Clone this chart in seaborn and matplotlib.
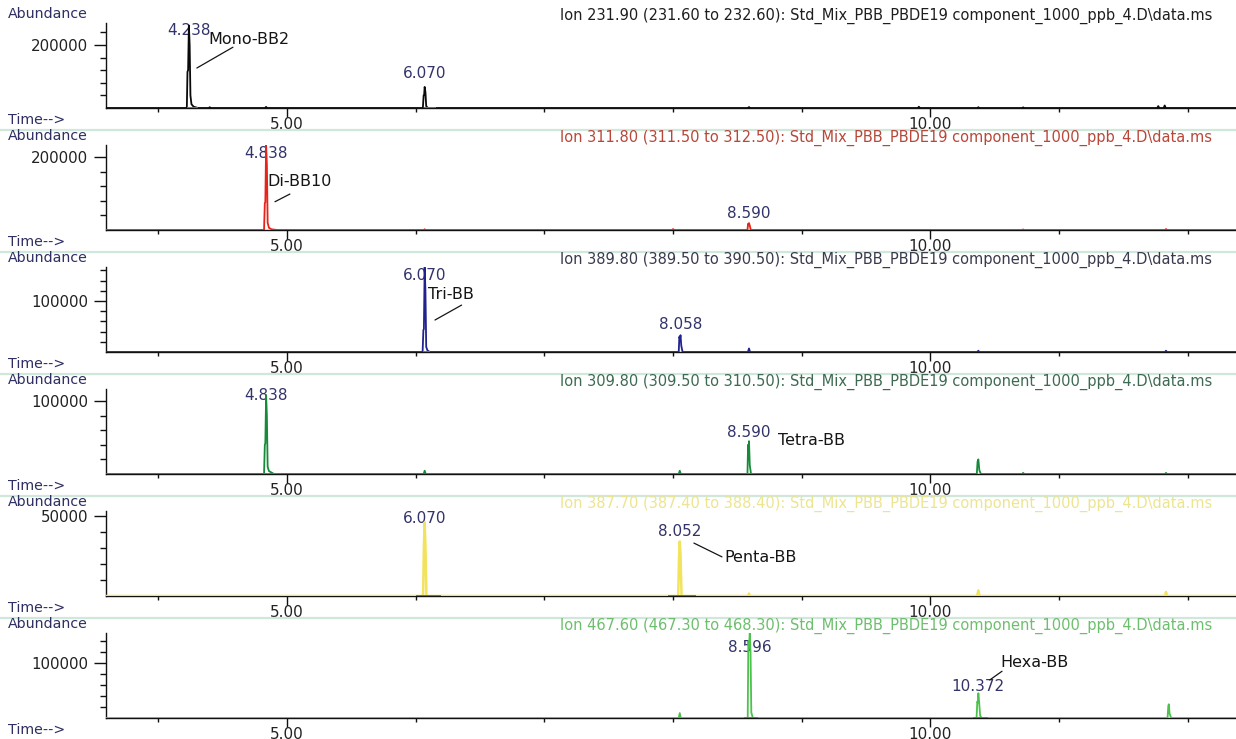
import matplotlib
matplotlib.use("Agg")
import matplotlib.pyplot as plt
import pandas as pd
import seaborn as sns
from matplotlib.ticker import FixedLocator
from matplotlib.lines import Line2D

# ---------------------------------------------------------------- data
# Extracted ion chromatograms: (retention time [min], abundance) pairs
mono_points = [(3.594, 0), (4.222, 0), (4.227, 115000), (4.232, 120000), (4.238, 262000),
               (4.244, 200000), (4.250, 40000), (4.258, 12000), (4.275, 4000), (4.310, 0),
               (4.392, 0), (4.400, 2500), (4.408, 0), (4.830, 0), (4.838, 3500), (4.846, 0),
               (6.056, 0), (6.062, 40000), (6.066, 42000), (6.070, 67000), (6.076, 50000),
               (6.082, 6000), (6.095, 0), (8.582, 0), (8.590, 3000), (8.598, 0),
               (9.902, 0), (9.910, 4000), (9.918, 0), (10.364, 0), (10.372, 2500), (10.380, 0),
               (10.712, 0), (10.720, 2000), (10.728, 0), (11.762, 0), (11.770, 6000), (11.778, 0),
               (11.812, 0), (11.820, 8000), (11.828, 0), (12.374, 0)]

di_points = [(3.594, 0), (4.822, 0), (4.828, 74000), (4.832, 76000), (4.838, 232000),
             (4.844, 180000), (4.850, 20000), (4.860, 6000), (4.880, 2000), (4.920, 0),
             (6.064, 0), (6.070, 2000), (6.076, 0), (7.992, 0), (8.000, 2500), (8.008, 0),
             (8.578, 0), (8.583, 17000), (8.587, 14000), (8.590, 19000), (8.596, 12000), (8.604, 0),
             (10.712, 0), (10.720, 1500), (10.728, 0), (11.822, 0), (11.830, 2500), (11.838, 0),
             (12.374, 0)]

tri_points = [(3.594, 0), (6.054, 0), (6.060, 43000), (6.064, 45000), (6.070, 166000),
              (6.076, 120000), (6.082, 10000), (6.092, 3000), (6.110, 0),
              (8.044, 0), (8.049, 30000), (8.053, 26000), (8.058, 33000), (8.064, 12000), (8.074, 0),
              (8.582, 0), (8.590, 7000), (8.598, 0), (10.364, 0), (10.372, 2500), (10.380, 0),
              (11.822, 0), (11.830, 2500), (11.838, 0), (12.374, 0)]

tetra_points = [(3.594, 0), (4.822, 0), (4.828, 40000), (4.832, 42000), (4.838, 108000),
                (4.844, 80000), (4.850, 10000), (4.860, 4000), (4.900, 0),
                (6.062, 0), (6.070, 4500), (6.078, 0), (8.044, 0), (8.052, 4500), (8.060, 0),
                (8.578, 0), (8.583, 40000), (8.587, 30000), (8.590, 45000), (8.596, 12000), (8.606, 0),
                (10.360, 0), (10.366, 17000), (10.372, 20000), (10.380, 5000), (10.392, 0),
                (10.712, 0), (10.720, 1500), (10.728, 0), (11.822, 0), (11.830, 1500), (11.838, 0),
                (12.374, 0)]

penta_points = [(3.594, 0), (6.058, 0), (6.064, 31000), (6.070, 46000), (6.076, 31000), (6.084, 0),
                (8.040, 0), (8.046, 23000), (8.052, 34000), (8.058, 26000), (8.066, 0),
                (8.582, 0), (8.590, 1500), (8.598, 0), (10.362, 0), (10.372, 3500), (10.382, 0),
                (11.822, 0), (11.830, 2500), (11.838, 0), (12.374, 0)]

hexa_points = [(3.594, 0), (8.044, 0), (8.052, 9000), (8.060, 0),
               (8.580, 0), (8.585, 140000), (8.590, 130000), (8.596, 154000), (8.602, 120000),
               (8.608, 10000), (8.620, 0),
               (10.358, 0), (10.364, 30000), (10.368, 28000), (10.372, 45000), (10.378, 30000),
               (10.386, 4000), (10.398, 0),
               (11.842, 0), (11.848, 22000), (11.852, 25000), (11.858, 8000), (11.870, 0),
               (12.374, 0)]

# labelled retention times per trace
mono_rt = [4.238, 6.070]
di_rt = [4.838, 8.590]
tri_rt = [6.070, 8.058]
tetra_rt = [4.838, 8.590]
penta_rt = [6.070, 8.052]
hexa_rt = [8.596, 10.372]

compound_names = ["Mono-BB2", "Di-BB10", "Tri-BB", "Tetra-BB", "Penta-BB", "Hexa-BB"]

data_file = r"Std_Mix_PBB_PBDE19 component_1000_ppb_4.D\data.ms"
ion_headers = [
    "Ion 231.90 (231.60 to 232.60): " + data_file,
    "Ion 311.80 (311.50 to 312.50): " + data_file,
    "Ion 389.80 (389.50 to 390.50): " + data_file,
    "Ion 309.80 (309.50 to 310.50): " + data_file,
    "Ion 387.70 (387.40 to 388.40): " + data_file,
    "Ion 467.60 (467.30 to 468.30): " + data_file,
]

y_label_ticks = [200000, 200000, 100000, 100000, 50000, 100000]
y_tick_steps = [40000, 40000, 20000, 20000, 10000, 20000]
x_label_ticks = [5.0, 10.0]
x_label_text = ["5.00", "10.00"]
x_minor_ticks = [4, 6, 7, 8, 9, 11, 12]

# integration baselines drawn under the peaks
integration_marks = [
    [(4.225, 4.31), (6.062, 6.16)],
    [],
    [(6.055, 6.115)],
    [(4.815, 4.95), (8.57, 8.64)],
    [(6.00, 6.20), (7.96, 8.18)],
    [(8.55, 8.66), (10.33, 10.45)],
]

# ---------------------------------------------------------------- style
sns.set_theme(style="white")
plt.rcParams["font.family"] = ["DejaVu Sans"]

W, H = 1236, 739
fig = plt.figure(figsize=(W / 100, H / 100), dpi=100)
fig.patch.set_facecolor("white")

X0, X1 = 3.594, 12.374
LEFT_PX, RIGHT_PX = 106, 1236
AX_H_PX = 85

panels = [
    dict(points=mono_points, rt=mono_rt, color="#0a0a0a", head="#1e1e1e", ymax=270000, lw=1.3,
         nums=[245000, 111000], name=(4.386, 219000), lead=[((4.30, 127000), (4.58, 193000))]),
    dict(points=di_points, rt=di_rt, color="#e8231a", head="#b8473a", ymax=233000, lw=1.3,
         nums=[211000, 44000], name=(4.845, 132000), lead=[((4.907, 77500), (5.023, 98600))]),
    dict(points=tri_points, rt=tri_rt, color="#22228f", head="#3a3a4e", ymax=166700, lw=1.3,
         nums=[151000, 53000], name=(6.096, 112000), lead=[((6.15, 62700), (6.357, 92000))]),
    dict(points=tetra_points, rt=tetra_rt, color="#168a38", head="#3d6a52", ymax=116500, lw=1.3,
         nums=[107000, 57500], name=(8.815, 46600), lead=[]),
    dict(points=penta_points, rt=penta_rt, color="#f2e35c", head="#ece590", ymax=53000, lw=1.8,
         nums=[48500, 40000], name=(8.40, 23800), lead=[((8.162, 33000), (8.38, 24400))]),
    dict(points=hexa_points, rt=hexa_rt, color="#4cc24c", head="#6cbf6c", ymax=154500, lw=1.3,
         nums=[129000, 58000], name=(10.54, 100000), lead=[((10.46, 69000), (10.556, 85000))]),
]

NAVY = "#2e2e62"
LABEL_NUM = "#33336b"

for i, p in enumerate(panels):
    baseline_px = 108 + 122 * i
    rect = [LEFT_PX / W, 1 - baseline_px / H, (RIGHT_PX - LEFT_PX) / W, AX_H_PX / H]
    ax = fig.add_axes(rect)
    ax.set_facecolor("none")

    df = pd.DataFrame(p["points"], columns=["time", "abundance"])
    sns.lineplot(data=df, x="time", y="abundance", ax=ax, color=p["color"], lw=p["lw"],
                 estimator=None, sort=False, legend=False, zorder=3)
    for a, b in integration_marks[i]:
        ax.hlines(0, a, b, color="#d0483c", lw=1.4, zorder=4)

    ax.set_xlim(X0, X1)
    ax.set_ylim(0, p["ymax"])
    ax.set_xlabel("")
    ax.set_ylabel("")
    for s in ("top", "right"):
        ax.spines[s].set_visible(False)
    for s in ("left", "bottom"):
        ax.spines[s].set_color("#111111")
        ax.spines[s].set_linewidth(1.0)

    ax.xaxis.set_major_locator(FixedLocator(x_label_ticks))
    ax.set_xticklabels(x_label_text)
    ax.xaxis.set_minor_locator(FixedLocator(x_minor_ticks))
    yl = y_label_ticks[i]
    ax.yaxis.set_major_locator(FixedLocator([yl]))
    ax.set_yticklabels([str(yl)])
    steps = [y_tick_steps[i] * k for k in range(1, 20) if y_tick_steps[i] * k <= p["ymax"]]
    ax.yaxis.set_minor_locator(FixedLocator(steps))

    ax.tick_params(which="both", left=True, bottom=True, top=False, right=False)
    ax.tick_params(axis="y", which="major", direction="out", length=8.6, width=1.0,
                   labelsize=10.8, pad=4, color="#111111", labelcolor="#222222")
    ax.tick_params(axis="y", which="minor", direction="out", length=4.3, width=1.0,
                   color="#111111")
    ax.tick_params(axis="x", which="major", direction="out", length=6.5, width=1.0,
                   labelsize=11, pad=0, color="#111111", labelcolor="#222222")
    ax.tick_params(axis="x", which="minor", direction="out", length=3.0, width=1.0,
                   color="#111111")

    # peak retention-time labels
    for rt, ypos in zip(p["rt"], p["nums"]):
        ax.text(rt, ypos, f"{rt:.3f}", ha="center", va="center", fontsize=11,
                color=LABEL_NUM, zorder=2, clip_on=False)
    nx, ny = p["name"]
    ax.text(nx, ny, compound_names[i], ha="left", va="center", fontsize=11.5,
            color="#151515", zorder=2, clip_on=False)
    for (xa, ya), (xb, yb) in p["lead"]:
        ax.plot([xa, xb], [ya, yb], color="#151515", lw=0.9, zorder=2)

    # panel captions
    fig.text(8 / W, 1 - (baseline_px - 94) / H, "Abundance", ha="left", va="center",
             fontsize=10.2, color=NAVY)
    fig.text(8 / W, 1 - (baseline_px + 12) / H, "Time-->", ha="left", va="center",
             fontsize=10.2, color=NAVY)
    fig.text(1212 / W, 1 - (baseline_px - 92) / H, ion_headers[i], ha="right", va="center",
             fontsize=10.5, color=p["head"])

    if i < len(panels) - 1:
        ysep = 1 - (baseline_px + 22) / H
        fig.add_artist(Line2D([0, 1], [ysep, ysep], transform=fig.transFigure,
                              color="#cfe8da", lw=1.6))

fig.savefig("out.png", dpi=100, facecolor="white")
